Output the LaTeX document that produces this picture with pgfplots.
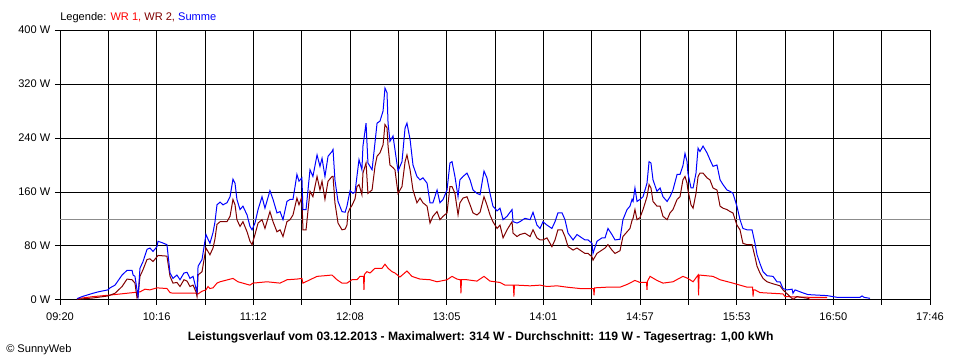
\documentclass[border=0pt]{standalone}
\usepackage{pgfplots}
\pgfplotsset{compat=1.18}
\usepackage{fontspec}
\setmainfont{Liberation Sans}
\definecolor{wrone}{RGB}{255,0,0}
\definecolor{wrtwo}{RGB}{128,0,0}
\definecolor{summe}{RGB}{0,0,255}
\definecolor{avg}{RGB}{140,140,140}
\newcommand{\lab}{\fontsize{8.3}{10}\selectfont}
\begin{document}
\begin{tikzpicture}[x=1pt,y=1pt]
\useasboundingbox (0,0) rectangle (720,270);
\begin{axis}[
  at={(45pt,45pt)}, anchor=south west,
  scale only axis, width=652.5pt, height=202.5pt,
  xmin=0, xmax=506, ymin=0, ymax=400,
  axis line style={black, line width=0.75pt},
  grid=major, major grid style={black, line width=0.75pt},
  tick style={black, line width=0.75pt},
  major tick length=3.75pt, tick align=outside,
  xtick pos=left, ytick pos=left,
  xtick={0,28.111,56.222,84.333,112.444,140.556,168.667,196.778,224.889,253,281.111,309.222,337.333,365.444,393.556,421.667,449.778,477.889,506},
  xticklabels={09:20,,10:16,,11:12,,12:08,,13:05,,14:01,,14:57,,15:53,,16:50,,17:46},
  ytick={0,80,160,240,320,400},
  yticklabels={0 W,80 W,160 W,240 W,320 W,400 W},
  ticklabel style={font=\lab, text=black},
  xticklabel style={yshift=-2.5pt},
  clip=true,
]
\addplot[avg, line width=0.75pt] coordinates {(0,119) (506,119)};
% WR 1
\addplot[wrone, line width=0.75pt] coordinates {
(9.9,2) (19.2,5) (27.9,7) (39.0,10) (46.5,12) (49.4,16) (52.3,15) (56.4,18) (62.2,17) (64.0,11) (65.7,10) (79.1,10) (80.3,9) (82.6,13) (84.9,15) (86.1,20) (87.2,17) (89.0,18) (91.3,25) (93.1,27) (100.6,32) (103.5,27) (110.5,22) (112.2,25) (120.4,27) (128.0,25) (132.0,30) (137.8,31) (140.7,32) (141.3,25) (145.4,30) (149.5,35) (154.1,36) (158.2,37) (161.1,30) (164.0,25) (166.9,25) (169.8,30) (172.7,30) (174.5,35) (176.5,35) (176.8,15) (177.1,38) (178.5,42) (180.3,40) (183.2,47) (187.3,47) (189.0,53) (190.8,47) (193.1,42) (194.8,40) (197.7,34) (201.8,43) (204.7,35) (209.4,31) (215.2,30) (219.3,27) (225.1,30) (228.0,35) (230.9,31) (232.9,30) (233.2,10) (233.5,30) (236.7,30) (242.5,28) (246.6,35) (250.1,28) (255.9,26) (258.8,22) (263.7,22) (264.0,5) (264.3,22) (265.8,22) (273.4,21) (279.2,22) (283.2,20) (289.1,21) (294.9,19) (302.4,17) (310.3,17) (310.6,7) (310.9,18) (318.1,19) (325.7,19) (329.8,23) (334.4,29) (337.3,26) (341.1,26) (341.4,15) (341.7,28) (343.2,35) (347.2,29) (350.7,25) (356.5,27) (362.3,35) (365.2,32) (368.2,27) (371.1,37) (371.4,7) (371.7,37) (379.8,35) (383.9,30) (391.4,25) (395.5,22) (399.6,19) (402.8,19) (403.1,5) (403.4,15) (404.2,15) (407.1,11) (420.5,9) (421.7,5) (436.2,4) (446.1,4)
};
% WR 2
\addplot[wrtwo, line width=0.75pt] coordinates {
(9.9,1) (14.5,2) (19.2,3) (27.9,6) (32.0,10) (36.1,20) (39.0,31) (41.9,30) (43.6,25) (44.8,3) (45.4,5) (46.5,35) (48.3,45) (50.6,60) (52.3,61) (54.1,57) (56.4,64) (57.0,66) (62.2,65) (64.0,35) (65.7,25) (68.0,26) (69.8,20) (72.1,30) (73.9,28) (75.6,20) (77.4,22) (79.1,12) (79.7,5) (80.3,37) (82.6,42) (84.9,77) (87.2,67) (89.0,77) (90.1,90) (91.3,112) (93.1,116) (97.1,116) (98.9,124) (100.6,149) (101.8,141) (102.9,119) (104.7,109) (106.4,116) (108.8,101) (110.5,87) (111.7,82) (113.4,97) (115.2,114) (117.5,119) (119.2,106) (122.1,131) (123.9,116) (126.2,101) (128.0,104) (129.7,94) (132.0,116) (133.8,119) (135.5,126) (137.8,151) (139.0,141) (140.7,153) (141.3,104) (143.1,104) (143.7,119) (145.4,161) (147.1,153) (149.5,183) (151.2,163) (152.4,176) (154.1,149) (155.9,176) (158.2,183) (158.8,183) (159.9,144) (161.7,114) (164.0,104) (165.8,105) (166.9,111) (167.5,129) (168.7,136) (169.8,140) (171.6,150) (172.7,168) (173.9,171) (175.6,156) (176.2,188) (178.0,203) (179.1,158) (181.5,163) (183.2,198) (184.4,213) (186.1,218) (187.9,230) (189.0,260) (190.2,255) (190.8,228) (191.9,200) (193.7,196) (194.8,193) (196.6,158) (198.9,168) (200.7,205) (201.8,215) (203.6,193) (205.3,163) (207.6,144) (209.4,151) (211.1,144) (213.5,139) (215.2,114) (216.9,124) (219.3,131) (221.0,119) (222.8,124) (225.1,129) (226.8,168) (228.0,168) (229.7,158) (231.5,126) (232.6,144) (234.4,151) (236.7,153) (238.5,141) (240.2,129) (242.5,126) (244.3,130) (246.6,153) (248.3,141) (250.1,126) (251.8,116) (254.2,106) (255.9,111) (257.7,92) (260.0,104) (262.9,116) (263.5,99) (265.8,94) (267.5,97) (270.4,99) (273.4,94) (275.1,104) (277.4,92) (279.2,89) (280.9,89) (283.2,92) (286.1,79) (287.9,89) (289.6,104) (292.0,104) (293.7,94) (295.5,79) (298.4,74) (300.7,77) (302.4,74) (305.3,69) (307.1,69) (309.4,64) (310.0,59) (312.3,69) (315.2,74) (317.0,77) (318.7,82) (321.0,74) (322.8,69) (325.7,73) (327.4,94) (329.8,101) (331.5,106) (332.7,118) (333.3,121) (334.4,134) (335.6,119) (337.3,122) (339.1,134) (341.4,153) (342.6,171) (343.7,166) (344.9,146) (347.2,139) (349.0,139) (350.7,124) (353.1,119) (354.8,129) (356.5,134) (358.9,149) (360.6,153) (362.3,178) (363.5,183) (364.7,173) (365.2,163) (367.0,141) (368.2,136) (369.9,158) (371.1,183) (372.2,188) (374.0,188) (376.3,181) (378.0,178) (379.8,166) (382.1,163) (383.9,139) (385.6,136) (387.9,134) (389.7,131) (391.4,129) (393.7,111) (395.5,104) (397.2,84) (399.6,82) (402.5,82) (404.2,64) (405.4,50) (407.1,40) (408.9,32) (411.2,27) (414.7,24) (418.8,21) (420.5,15) (424.6,5) (426.3,1) (428.6,5) (435.0,2.5) (436.2,1) (446.1,1)
};
% Summe
\addplot[summe, line width=0.75pt] coordinates {
(9.9,2) (12.8,5) (19.2,10) (22.1,12) (27.9,15) (29.1,18) (32.0,22) (36.1,37) (39.0,44) (41.9,44) (42.5,37) (43.6,35) (44.2,25) (45.4,5) (46.5,47) (48.3,57) (50.6,75) (52.3,77) (54.1,72) (56.4,79) (57.0,87) (59.3,85) (62.2,82) (64.0,40) (65.7,32) (68.0,37) (69.8,30) (72.1,40) (73.9,41) (75.6,32) (77.4,35) (79.1,17) (79.7,12) (80.3,50) (82.6,60) (84.9,97) (86.1,90) (87.2,84) (89.0,100) (90.1,115) (91.3,141) (93.1,145) (94.8,141) (97.1,144) (98.9,153) (100.6,179) (101.8,173) (102.9,149) (104.7,134) (106.4,139) (108.8,126) (110.5,109) (111.7,104) (113.4,114) (115.2,134) (117.5,153) (119.2,136) (122.1,162) (123.9,149) (126.2,129) (128.0,131) (129.7,119) (132.0,146) (133.8,149) (135.5,149) (136.7,168) (137.8,186) (139.0,176) (140.7,181) (141.3,134) (143.1,134) (143.7,149) (145.4,193) (147.1,183) (149.5,215) (151.2,198) (152.4,210) (154.1,183) (155.9,213) (158.2,220) (158.8,223) (159.9,178) (161.7,146) (164.0,131) (165.8,130) (166.9,139) (168.7,162) (170.4,158) (171.6,160) (172.7,183) (173.9,208) (175.6,193) (176.2,228) (178.0,262) (179.1,203) (181.5,193) (183.2,233) (184.4,262) (186.1,265) (187.9,280) (189.0,314) (190.2,307) (190.8,262) (191.9,235) (193.7,243) (194.8,223) (196.6,191) (198.9,205) (200.7,255) (201.8,262) (203.6,238) (205.3,200) (207.6,183) (209.4,178) (211.1,181) (213.5,173) (215.2,144) (216.9,144) (219.3,163) (221.0,144) (222.8,149) (225.1,163) (226.8,203) (228.0,205) (229.7,183) (231.5,153) (232.6,178) (234.4,183) (236.7,188) (238.5,178) (240.2,163) (242.5,158) (244.3,156) (246.6,191) (248.3,181) (250.1,158) (251.8,139) (254.2,132) (255.9,136) (257.7,119) (260.0,124) (262.9,134) (263.5,116) (265.8,114) (267.5,116) (270.4,121) (273.4,119) (275.1,130) (277.4,111) (279.2,106) (280.9,116) (283.2,111) (286.1,106) (287.9,116) (289.6,129) (292.0,129) (293.7,119) (295.5,99) (298.4,89) (300.7,97) (302.4,94) (305.3,89) (307.1,89) (309.4,84) (310.0,69) (312.3,87) (315.2,92) (317.0,92) (318.7,106) (321.0,97) (322.8,89) (325.7,90) (327.4,119) (329.8,134) (331.5,139) (332.7,149) (333.3,146) (334.4,166) (335.6,146) (337.3,149) (339.1,153) (341.4,173) (342.6,205) (343.7,203) (344.9,178) (347.2,161) (349.0,166) (350.7,153) (353.1,146) (354.8,153) (356.5,163) (358.9,186) (360.6,186) (362.3,199) (363.5,217) (364.7,205) (365.2,188) (367.0,166) (368.2,166) (369.9,188) (371.1,225) (372.2,220) (374.0,228) (376.3,218) (378.0,208) (379.8,198) (382.1,200) (383.9,178) (385.6,171) (387.9,163) (389.7,161) (391.4,158) (393.7,139) (395.5,119) (397.2,106) (399.6,104) (402.5,104) (404.2,84) (405.4,67) (407.1,54) (408.9,42) (411.2,36) (414.7,35) (417.0,27) (418.8,27) (420.5,17) (422.8,15) (425.8,16) (426.3,10) (427.5,15) (431.6,11) (435.0,8) (446.1,6.5) (451.9,4) (465.3,4) (466.5,6) (467.6,4) (471.1,2.5)
};
\end{axis}
\node[anchor=base west, inner sep=0pt, font=\lab] at (45,254.5) {Legende: \textcolor{wrone}{WR 1,} \textcolor{wrtwo}{WR 2,} \textcolor{summe}{Summe}};
\node[anchor=base, inner sep=0pt, font=\fontsize{9.1}{11}\selectfont\bfseries] at (360.5,14.5) {Leistungsverlauf vom 03.12.2013 - Maximalwert: 314 W - Durchschnitt: 119 W - Tagesertrag: 1,00 kWh};
\node[anchor=base west, inner sep=0pt, font=\lab] at (4.5,5.5) {\textcopyright\ SunnyWeb};
\end{tikzpicture}
\end{document}
